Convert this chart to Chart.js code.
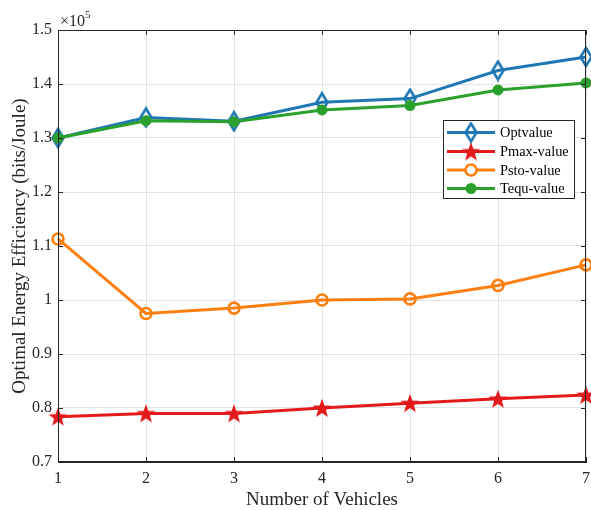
<!DOCTYPE html>
<html>
<head>
<meta charset="utf-8">
<script src="https://cdn.jsdelivr.net/npm/chart.js@4"></script>
<style>
  html, body { margin: 0; padding: 0; background: #fff; }
  #wrap { width: 591px; height: 510px; position: relative; }
</style>
</head>
<body>
<div id="wrap"><canvas id="c" width="591" height="510"></canvas></div>
<script>
// ---- data (values in units of 10^5 bits/Joule) ----
const categories = ['1', '2', '3', '4', '5', '6', '7'];
const optValue  = [1.300, 1.338, 1.331, 1.366, 1.373, 1.425, 1.450];
const pmaxValue = [0.784, 0.790, 0.790, 0.800, 0.809, 0.817, 0.824];
const pstoValue = [1.113, 0.975, 0.985, 1.000, 1.002, 1.027, 1.065];
const tequValue = [1.300, 1.332, 1.330, 1.352, 1.360, 1.389, 1.402];
const seriesNames = ['Optvalue', 'Pmax-value', 'Psto-value', 'Tequ-value'];
const yTickValues = [0.7, 0.8, 0.9, 1.0, 1.1, 1.2, 1.3, 1.4, 1.5];
const yTickLabels = ['0.7', '0.8', '0.9', '1', '1.1', '1.2', '1.3', '1.4', '1.5'];
const xTitle = 'Number of Vehicles';
const yTitle = 'Optimal Energy Efficiency (bits/Joule)';

const FONT = '"Liberation Serif", "DejaVu Serif", serif';
const C_BLUE = '#1f77b4', C_RED = '#e31a1c', C_ORANGE = '#ff7f0e', C_GREEN = '#2ca02c';

function makeDiamond(color) {
  const c = document.createElement('canvas');
  c.width = 16; c.height = 22;
  const g = c.getContext('2d');
  g.strokeStyle = color; g.lineWidth = 2.6; g.lineJoin = 'miter';
  g.beginPath();
  g.moveTo(8, 2); g.lineTo(13.5, 11); g.lineTo(8, 20); g.lineTo(2.5, 11); g.closePath();
  g.stroke();
  return c;
}
function makeStar(color) {
  const c = document.createElement('canvas');
  c.width = 22; c.height = 22;
  const g = c.getContext('2d');
  g.fillStyle = color;
  g.beginPath();
  const cx = 11, cy = 11.8, R = 10, r = 4.1;
  for (let i = 0; i < 10; i++) {
    const a = -Math.PI / 2 + i * Math.PI / 5;
    const rad = i % 2 === 0 ? R : r;
    const px = cx + rad * Math.cos(a), py = cy + rad * Math.sin(a);
    if (i === 0) g.moveTo(px, py); else g.lineTo(px, py);
  }
  g.closePath(); g.fill();
  return c;
}
const diamondImg = makeDiamond(C_BLUE);
const starImg = makeStar(C_RED);

const datasets = [
  { label: seriesNames[0], data: optValue, borderColor: C_BLUE, backgroundColor: C_BLUE,
    pointStyle: diamondImg, order: 3 },
  { label: seriesNames[1], data: pmaxValue, borderColor: C_RED, backgroundColor: C_RED,
    pointStyle: starImg, order: 2 },
  { label: seriesNames[2], data: pstoValue, borderColor: C_ORANGE, backgroundColor: 'rgba(0,0,0,0)',
    pointStyle: 'circle', pointRadius: 5.5, pointBorderWidth: 2.6, order: 1 },
  { label: seriesNames[3], data: tequValue, borderColor: C_GREEN, backgroundColor: C_GREEN,
    pointStyle: 'circle', pointRadius: 5.5, pointBorderWidth: 0, order: 0 },
].map(d => Object.assign({ borderWidth: 3, tension: 0, fill: false, pointRadius: 6, clip: false, pointBorderColor: d.borderColor, pointBackgroundColor: d.backgroundColor }, d));

const framePlugin = {
  id: 'frame',
  afterDraw(chart) {
    const { ctx, chartArea: a, scales } = chart;
    ctx.save();
    // box
    ctx.strokeStyle = '#262626';
    ctx.lineWidth = 1;
    ctx.strokeRect(a.left + 0.5, a.top + 0.5, a.right - a.left - 1, a.bottom - a.top - 1);
    // inward ticks
    const tl = 5;
    ctx.beginPath();
    scales.y.ticks.forEach(t => {
      const y = Math.round(scales.y.getPixelForValue(t.value)) + 0.5;
      ctx.moveTo(a.left, y); ctx.lineTo(a.left + tl, y);
      ctx.moveTo(a.right, y); ctx.lineTo(a.right - tl, y);
    });
    scales.x.ticks.forEach((t, i) => {
      const x = Math.round(scales.x.getPixelForTick(i)) + 0.5;
      ctx.moveTo(x, a.bottom); ctx.lineTo(x, a.bottom - tl);
      ctx.moveTo(x, a.top); ctx.lineTo(x, a.top + tl);
    });
    ctx.stroke();
    // exponent label
    ctx.fillStyle = '#262626';
    ctx.textBaseline = 'alphabetic';
    ctx.textAlign = 'left';
    ctx.font = '16px ' + FONT;
    ctx.fillText('\u00d710', a.left + 2, a.top - 4);
    const w = ctx.measureText('\u00d710').width;
    ctx.font = '11px ' + FONT;
    ctx.fillText('5', a.left + 2 + w, a.top - 12);

    // legend
    const lx = 443, ly = 120, lw = 131, lh = 78;
    ctx.fillStyle = '#ffffff';
    ctx.fillRect(lx, ly, lw, lh);
    ctx.strokeStyle = '#262626';
    ctx.lineWidth = 1;
    ctx.strokeRect(lx + 0.5, ly + 0.5, lw, lh);
    const rowY = [132.5, 151.5, 170, 188.5];
    chart.data.datasets.forEach((ds, i) => {
      const y = rowY[i];
      ctx.strokeStyle = ds.borderColor;
      ctx.lineWidth = 3;
      ctx.beginPath(); ctx.moveTo(447, y); ctx.lineTo(495, y); ctx.stroke();
      if (ds.pointStyle === 'circle') {
        ctx.beginPath(); ctx.arc(471, y, ds.pointRadius, 0, Math.PI * 2);
        if (ds.pointBorderWidth > 0) {
          ctx.fillStyle = '#ffffff'; ctx.fill();
          ctx.strokeStyle = ds.pointBorderColor; ctx.lineWidth = ds.pointBorderWidth; ctx.stroke();
        } else { ctx.fillStyle = ds.pointBackgroundColor; ctx.fill(); }
      } else {
        Chart.helpers.drawPoint(ctx, { pointStyle: ds.pointStyle, radius: 6, borderWidth: 0, rotation: 0 }, 471, y);
      }
      ctx.fillStyle = '#000';
      ctx.font = '14.4px ' + FONT;
      ctx.textBaseline = 'middle';
      ctx.textAlign = 'left';
      ctx.fillText(ds.label, 500, y + 1);
    });
    ctx.restore();
  }
};

new Chart(document.getElementById('c'), {
  type: 'line',
  data: { labels: categories, datasets },
  options: {
    responsive: false,
    animation: false,
    layout: { autoPadding: false, padding: { left: 0, right: 5, top: 30, bottom: 0 } },
    plugins: { legend: { display: false }, tooltip: { enabled: false } },
    scales: {
      x: {
        type: 'category',
        offset: false,
        grid: { color: '#e3e3e3', lineWidth: 1, drawTicks: false },
        border: { color: '#262626', width: 1 },
        ticks: { color: '#262626', font: { family: FONT, size: 16 }, padding: 7, maxRotation: 0 },
        title: { display: true, text: xTitle, color: '#262626', font: { family: FONT, size: 19, lineHeight: 1 }, padding: { top: 0, bottom: 0 } },
        afterFit(s) { s.height = 48; s.paddingRight = 0; s.paddingLeft = 0; }
      },
      y: {
        min: 0.7, max: 1.5,
        grid: { color: '#e3e3e3', lineWidth: 1, drawTicks: false },
        border: { color: '#262626', width: 1 },
        afterBuildTicks(s) { s.ticks = yTickValues.map(v => ({ value: v })); },
        ticks: {
          color: '#262626', font: { family: FONT, size: 16 }, padding: 6,
          callback(v) { const i = yTickValues.findIndex(t => Math.abs(t - v) < 1e-9); return i >= 0 ? yTickLabels[i] : ''; }
        },
        title: { display: true, text: yTitle, color: '#262626', font: { family: FONT, size: 19, lineHeight: 1 }, padding: { top: 10.5, bottom: 0 } },
        afterFit(s) { s.width = 58; s.paddingTop = 0; s.paddingBottom = 0; }
      }
    }
  },
  plugins: [framePlugin]
});
</script>
</body>
</html>
